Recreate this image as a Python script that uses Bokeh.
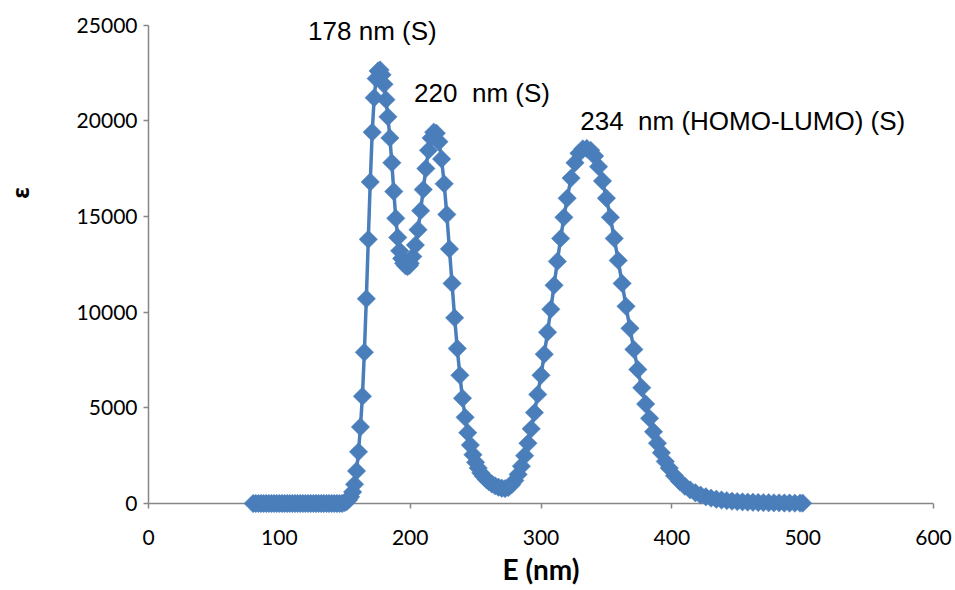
from bokeh.plotting import figure
from bokeh.models import Range1d, Label, FixedTicker, Span
from bokeh.embed import file_html
from bokeh.resources import INLINE

# Wavelength grid (nm)
wavelength_nm = [
    80, 82, 84, 86, 88, 90, 92, 94, 96, 98, 100, 102, 104, 106, 108, 110, 112, 114,
    116, 118, 120, 122, 124, 126, 128, 130, 132, 134, 136, 138, 140, 142, 144, 146, 148,
    150, 151.5, 153, 154.5, 156, 157.5, 159, 160.5, 162, 163.5, 165, 166.5, 168, 169.5,
    171, 172.5, 174, 175.5, 177, 178.5, 180, 181.5, 183, 184.5, 186, 187.5, 189, 190.5,
    192, 193.5, 195, 196.5, 198, 199.5,
    200, 202, 204, 206, 208, 210, 212, 214, 216, 218, 220, 222, 224, 226, 228, 230,
    232, 234, 236, 238, 240, 242, 244, 246, 248, 250, 252, 254, 256, 258,
    260, 262.5, 265, 267.5, 270, 272.5, 275, 277.5, 280, 282.5, 285, 287.5, 290, 292.5,
    295, 297.5, 300, 302.5, 305, 307.5, 310, 312.5, 315, 317.5,
    320, 323, 326, 329, 332, 335, 338, 341, 344, 347, 350, 353, 356, 359, 362, 365,
    368, 371, 374, 377, 380, 383, 386, 389, 392, 395, 398,
    402, 406, 410, 414, 418, 422, 426, 430, 434, 438, 442, 446, 450, 454, 458, 462,
    466, 470, 474, 478, 482, 486, 490, 494, 498, 500,
]

# Molar absorptivity (epsilon)
epsilon = [
    0, 0, 0, 0, 0, 0, 0, 0, 0, 0, 0, 0, 0, 0, 0, 0, 0, 0,
    0, 0, 0, 0, 0, 0, 0, 0, 0, 0, 0, 0, 0, 0, 0, 0, 0,
    50, 100, 200, 350, 600, 1000, 1700, 2700, 4000, 5600, 7900, 10700, 13800, 16800,
    19400, 21200, 22200, 22600, 22650, 22400, 21900, 21100, 20200, 19100, 17800, 16300, 14900, 13900,
    13200, 12800, 12550, 12420, 12380, 12450,
    12550, 12900, 13500, 14300, 15300, 16400, 17500, 18450, 19100, 19400, 19350, 18900, 18000, 16700, 15100, 13300,
    11500, 9700, 8100, 6700, 5500, 4500, 3700, 3050, 2550, 2150, 1850, 1600, 1420, 1270,
    1150, 1020, 920, 850, 800, 780, 830, 980, 1200, 1520, 1950, 2500, 3150, 3900,
    4750, 5700, 6700, 7800, 8950, 10150, 11400, 12650, 13850, 14950,
    15950, 17000, 17800, 18300, 18530, 18550, 18450, 18150, 17600, 16850, 15950, 14950, 13850, 12700, 11500, 10300,
    9150, 8050, 7000, 6050, 5200, 4450, 3750, 3150, 2650, 2200, 1850,
    1450, 1150, 900, 710, 560, 440, 350, 280, 225, 180, 148, 122, 100, 85, 72, 62,
    53, 46, 40, 35, 31, 27, 24, 21, 19, 18,
]

x_ticks = [0, 100, 200, 300, 400, 500, 600]
y_ticks = [0, 5000, 10000, 15000, 20000, 25000]

peak_labels = ["178 nm (S)", "220\u00a0 nm (S)", "234\u00a0 nm (HOMO-LUMO) (S)"]
label_x = [122, 203, 330]
label_y = [24710, 21470, 19960]

BLUE = "#4A7EBB"
AXIS_GRAY = "#868686"

# frame is a little larger than the axes so that the markers at 0 are not cut
p = figure(width=955, height=590, output_backend="svg", toolbar_location=None,
           x_range=Range1d(0, 600), y_range=Range1d(-522.5, 25757.6),
           min_border_left=148, min_border_right=22, min_border_top=10,
           min_border_bottom=77)
p.outline_line_color = None
p.grid.visible = False
p.background_fill_color = "white"
p.border_fill_color = "white"

# x axis line at y = 0 (below the data)
p.add_layout(Span(location=0, dimension="width", line_color=AXIS_GRAY,
                  line_width=1.5))

p.line(wavelength_nm, epsilon, line_color=BLUE, line_width=3.5, level="overlay")
p.scatter(wavelength_nm, epsilon, marker="square", size=13, angle=0.785398,
          fill_color=BLUE, line_color=BLUE, line_width=0.5, level="overlay")

for ax in (p.xaxis[0], p.yaxis[0]):
    ax.major_tick_line_color = AXIS_GRAY
    ax.major_tick_line_width = 1.5
    ax.minor_tick_line_color = None
    ax.major_label_text_font = "Lato"
    ax.major_label_text_font_size = "21px"
    ax.major_label_text_color = "#000000"
    ax.axis_label_text_color = "#000000"
    ax.axis_label_text_font_style = "bold"

# x axis: own line hidden (Span above), ticks reach from y=0 downwards
xa = p.xaxis[0]
xa.axis_line_color = None
xa.ticker = FixedTicker(ticks=x_ticks)
xa.major_tick_in = 10
xa.major_tick_out = -5
xa.major_label_standoff = 16
xa.axis_label = "E (nm)"
xa.axis_label_text_font = "Lato"
xa.axis_label_text_font_size = "28px"
xa.axis_label_standoff = 4

# y axis with line only between 0 and 25000
ya = p.yaxis[0]
ya.axis_line_color = AXIS_GRAY
ya.axis_line_width = 1.5
ya.bounds = (0, 25000)
ya.ticker = FixedTicker(ticks=y_ticks)
ya.major_tick_in = 0
ya.major_tick_out = 5
ya.major_label_standoff = 6
# leading em spaces lift the symbol above the middle, as in the original
ya.axis_label = "\u2003" * 6 + "ε"
ya.axis_label_text_font = "Noto Sans"
ya.axis_label_text_font_size = "23px"
ya.axis_label_standoff = 38

for txt, lx, ly in zip(peak_labels, label_x, label_y):
    p.add_layout(Label(x=lx, y=ly, text=txt, text_font="Liberation Sans",
                       text_font_size="26px", text_color="#000000",
                       text_baseline="middle", text_align="left"))

open("out.html", "w").write(file_html(p, INLINE))
